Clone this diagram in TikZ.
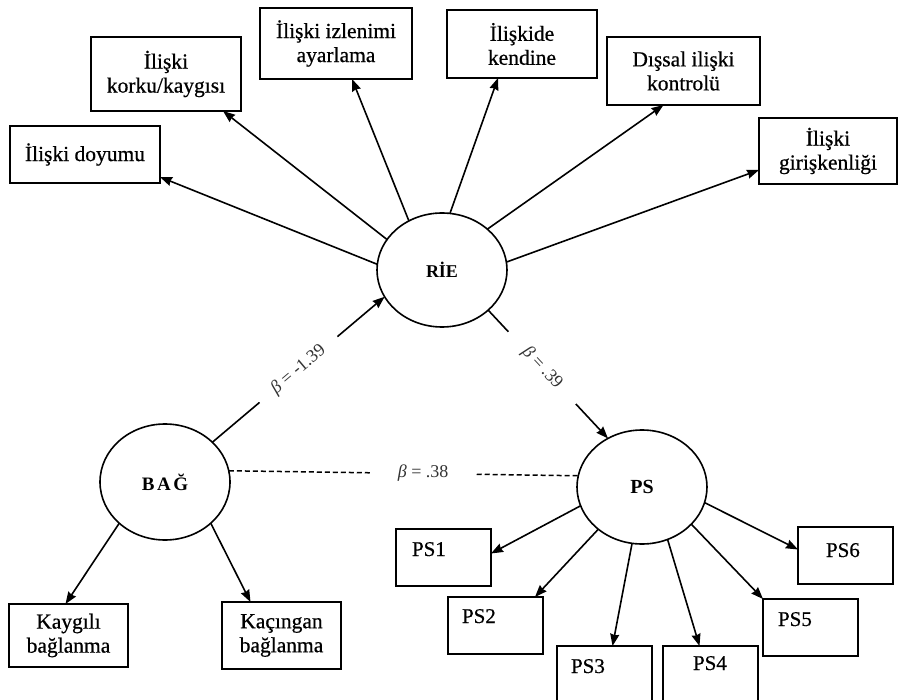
\documentclass[tikz,border=0pt]{standalone}
\usepackage{fontspec}
\setmainfont{Liberation Serif}
\newfontfamily\heavy{Liberation Serif}[FakeBold=0.6]
\usetikzlibrary{arrows.meta,shapes.geometric}
\tikzset{
  box/.style={draw, line width=1.9pt, align=center, inner sep=0pt, outer sep=0pt,
    font=\heavy\fontsize{21.5}{24}\selectfont},
  psbox/.style n args={4}{draw, line width=1.9pt, anchor=north west, align=left,
    inner ysep=0pt, outer sep=0pt, inner xsep=#1, text width=#2, text height=#3, text depth=#4,
    font=\heavy\fontsize{21}{23}\selectfont},
  latent/.style={draw, ellipse, line width=1.6pt, inner sep=0pt, outer sep=0pt,
    minimum width=130pt, minimum height=114pt, font=\fontsize{18}{20}\selectfont\bfseries},
  arr/.style={line width=1.6pt, -{Stealth[length=12pt,width=9pt,inset=1pt]}},
  link/.style={line width=1.6pt},
  dashlink/.style={line width=1.5pt, dash pattern=on 5pt off 3pt},
  coef/.style={font=\fontsize{18}{20}\selectfont, text=black!80, fill=white, inner ysep=2pt},
}
\begin{document}
\begin{tikzpicture}[x=1pt,y=-1pt]
\useasboundingbox (0,0) rectangle (902,700);
% top indicator boxes
\node[box, minimum width=150pt, minimum height=57pt] (doy) at (85,154.5) {İlişki doyumu};
\node[box, minimum width=150pt, minimum height=74pt] (kor) at (166,74) {İlişki\\korku/kaygısı};
\node[box, minimum width=152pt, minimum height=71pt] (izl) at (336,43.5) {İlişki izlenimi\\ayarlama};
\node[box, minimum width=150pt, minimum height=68pt] (ken) at (522,44) {İlişkide\\kendine};
\node[box, minimum width=153pt, minimum height=68pt] (kon) at (683.5,71) {Dışsal ilişki\\kontrolü};
\node[box, minimum width=138pt, minimum height=66pt] (gir) at (828,151) {İlişki\\girişkenliği};
% latent variables
\node[latent] (rie) at (442,270) {RİE};
\node[latent, minimum height=116pt, font=\fontsize{19}{21}\selectfont\bfseries\addfontfeatures{LetterSpace=14}] (bag) at (165,482) {BAĞ};
\node[latent, font=\fontsize{20}{22}\selectfont\bfseries] (ps) at (642,487) {PS};
% bottom left boxes
\node[box, minimum width=119pt, minimum height=63pt] (kay) at (68.5,635.5) {Kaygılı\\bağlanma};
\node[box, minimum width=119pt, minimum height=67pt] (kac) at (281.5,635.5) {Kaçıngan\\bağlanma};
% PS indicator boxes
\node[psbox={16pt}{63pt}{27pt}{30pt}] (ps1) at (396,529) {PS1};
\node[psbox={14pt}{67pt}{26pt}{31pt}] (ps2) at (448,597) {PS2};
\node[psbox={14pt}{67pt}{27pt}{45pt}] (ps3) at (557,646) {PS3};
\node[psbox={30pt}{35pt}{24pt}{48pt}] (ps4) at (663,646) {PS4};
\node[psbox={15pt}{65pt}{27pt}{30pt}] (ps5) at (763,599) {PS5};
\node[psbox={28pt}{39pt}{30pt}{27pt}] (ps6) at (798,527) {PS6};
% RIE loadings
\draw[arr] (rie.175) -- ([yshift=6pt]doy.south east);
\draw[arr] (rie.151) -- ([xshift=-18pt]kor.south east);
\draw[arr] (rie.124) -- ([xshift=16pt]izl.south);
\draw[arr] (rie.82) -- ([xshift=-24pt]ken.south);
\draw[arr] (rie.42) -- ([xshift=-20pt]kon.south);
\draw[arr] (rie.7) -- ([yshift=-19pt]gir.west);
% structural paths
\draw[arr] (bag.40) -- node[coef, sloped, pos=0.5, inner xsep=18pt] {\textit{β} = -1.39} (rie.205);
\draw[arr] (rie.319) -- node[coef, sloped, pos=0.45, inner xsep=24pt] {\textit{β} = .39} (ps.125);
\draw[dashlink] (bag.10) -- node[coef, pos=0.556, inner xsep=28pt] {\textit{β} = .38} (ps.170);
% BAG loadings
\draw[arr] (bag.222) -- ([xshift=-3pt]kay.north);
\draw[arr] (bag.318) -- ([xshift=-31pt]kac.north);
% PS loadings
\draw[arr] (ps.197) -- ([yshift=4pt]ps1.east);
\draw[arr] (ps.224) -- ([xshift=-8pt]ps2.north east);
\draw[arr] (ps.260) -- ([xshift=8pt]ps3.north);
\draw[arr] (ps.296) -- ([xshift=-11pt]ps4.north);
\draw[arr] (ps.323) -- (ps5.north west);
\draw[arr] (ps.346) -- ([yshift=6pt]ps6.west);
\end{tikzpicture}
\end{document}
